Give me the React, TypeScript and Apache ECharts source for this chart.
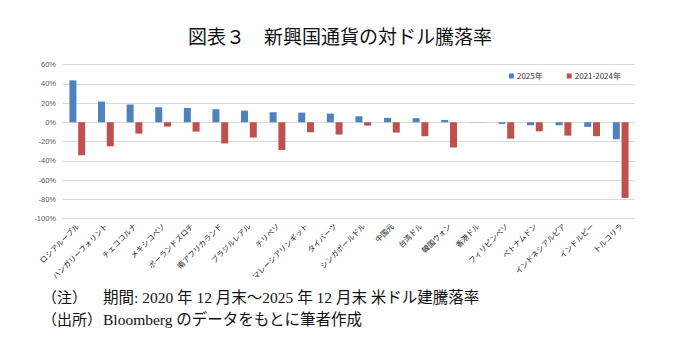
import React, { useEffect, useRef } from "react";
import * as echarts from "echarts";

const categories = [
  "ロシアルーブル", "ハンガリーフォリント", "チェココルナ", "メキシコペソ", "ポーランドズロチ",
  "南アフリカランド", "ブラジルレアル", "チリペソ", "マレーシアリンギット", "タイバーツ",
  "シンガポールドル", "中国元", "台湾ドル", "韓国ウォン", "香港ドル",
  "フィリピンペソ", "ベトナムドン", "インドネシアルピア", "インドルピー", "トルコリラ",
];
const values2025 = [43.5, 21.5, 18.4, 15.6, 14.9, 13.5, 12.1, 10.4, 10.0, 9.0, 6.2, 4.5, 4.2, 2.4, 0.2, -1.7, -3.1, -3.1, -4.8, -17.7];
const values2021_2024 = [-34.3, -25.0, -11.8, -4.5, -9.7, -22.0, -15.9, -28.8, -10.4, -12.8, -3.5, -10.7, -14.5, -26.3, -0.2, -17.0, -9.4, -13.9, -14.5, -78.6];
const seriesNames = ["2025年", "2021-2024年"];
const titleText = "図表３　新興国通貨の対ドル騰落率";
const noteLabels = ["（注）", "（出所）"];
const noteTexts = [
  "期間: 2020 年 12 月末～2025 年 12 月末 米ドル建騰落率",
  "Bloomberg のデータをもとに筆者作成",
];

const JP = "'Noto Sans CJK JP', sans-serif";
const SERIF = "'Liberation Serif', 'Noto Sans CJK JP', serif";

export default function App() {
  const ref = useRef<HTMLDivElement>(null);
  useEffect(() => {
    document.body.style.margin = "0";
    if (!ref.current) return;
    const chart = echarts.init(ref.current, null, { renderer: "svg" });
    const graphics: any[] = [];
    noteLabels.forEach((t, i) => {
      graphics.push({
        type: "text",
        left: 42,
        top: 290 + i * 22,
        style: { text: t, fontFamily: SERIF, fontSize: 15, fill: "#111" },
      });
      graphics.push({
        type: "text",
        left: 103,
        top: 290 + i * 22,
        style: { text: noteTexts[i], fontFamily: SERIF, fontSize: 15.5, fill: "#111" },
      });
    });
    chart.setOption({
      animation: false,
      backgroundColor: "#ffffff",
      title: {
        text: titleText,
        left: 335,
        textAlign: "center",
        top: 21,
        textStyle: { fontFamily: JP, fontSize: 19, fontWeight: "normal", color: "#111" },
      },
      legend: {
        data: seriesNames,
        right: 55,
        top: 69,
        itemWidth: 5,
        itemHeight: 5,
        itemGap: 24,
        icon: "rect",
        backgroundColor: "#ffffff",
        padding: [3, 4],
        textStyle: { fontFamily: JP, fontSize: 8, color: "#333", padding: [0, 0, 0, -2] },
      },
      grid: { left: 63, right: 45, top: 64.5, bottom: 133.5, containLabel: false },
      xAxis: {
        type: "category",
        data: categories,
        axisLine: { show: false },
        axisTick: { show: false },
        axisLabel: {
          rotate: 45,
          interval: 0,
          fontFamily: JP,
          fontSize: 7.5,
          color: "#222",
          margin: 6,
        },
      },
      yAxis: {
        type: "value",
        min: -100,
        max: 60,
        interval: 20,
        axisLine: { show: false },
        axisTick: { show: false },
        axisLabel: {
          formatter: "{value}%",
          fontFamily: "'Liberation Sans', Arial, sans-serif",
          fontSize: 7.5,
          color: "#595959",
          margin: 7,
        },
        splitLine: { lineStyle: { color: "#d9d9d9", width: 1 } },
      },
      series: [
        {
          name: seriesNames[0],
          type: "bar",
          data: values2025,
          barWidth: 7,
          barGap: "25%",
          itemStyle: { color: "#4f81bd" },
        },
        {
          name: seriesNames[1],
          type: "bar",
          data: values2021_2024,
          barWidth: 7,
          barGap: "25%",
          itemStyle: { color: "#c0504d" },
        },
      ],
      graphic: graphics,
    });
    return () => chart.dispose();
  }, []);
  return <div ref={ref} style={{ width: 680, height: 352 }} />;
}
